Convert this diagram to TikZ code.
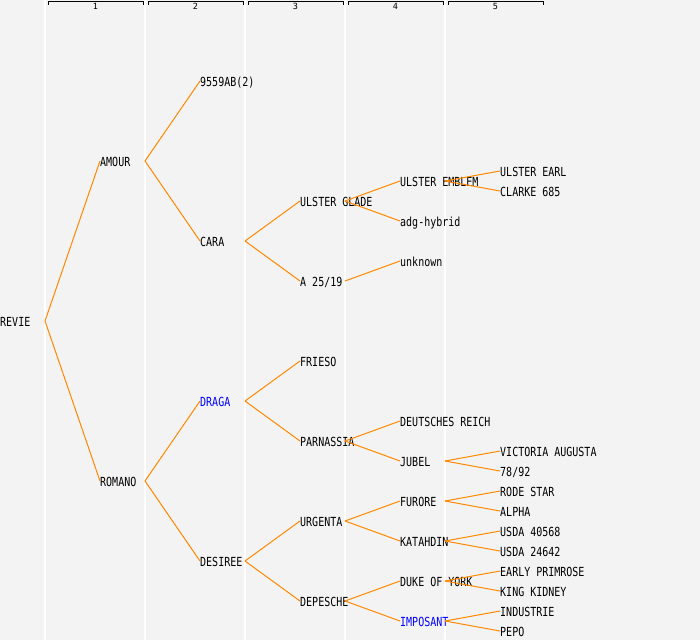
\documentclass[tikz,border=0pt]{standalone}
\usepackage{fontspec}
\setmonofont{DejaVu Sans Mono}[FakeStretch=0.8]
\newfontfamily\hdrfont{DejaVu Sans Mono}
\definecolor{bgc}{RGB}{243,243,243}
\definecolor{edgec}{RGB}{255,136,0}
\tikzset{
  lbl/.style={anchor=base west, inner sep=0pt, text height=9.3pt, text depth=0pt,
              font=\ttfamily\fontsize{12.5}{14}\selectfont},
  hl/.style={lbl, text=blue},
  edge/.style={draw=edgec, line width=1pt},
  colline/.style={draw=white, line width=1.2pt},
  brk/.style={draw=black, line width=0.9pt},
  hdr/.style={inner sep=0pt, font=\hdrfont\fontsize{8.5}{9}\selectfont}
}
\newcommand{\Nd}[5][lbl]{%
  \node[#1] (#2) at (#3,#4+4.65) {#5};
  \coordinate (#2-j) at (#3+45,#4-1);}
\newcommand{\Ed}[2]{\draw[edge] (#1-j) -- ([yshift=1pt]#2.west);}
\begin{document}
\begin{tikzpicture}[x=1pt,y=-1pt]
\fill[bgc] (0,0) rectangle (700,640);
\useasboundingbox (0,0) rectangle (700,640);
% column lines
\foreach \c in {45,145,245,345,445} {\draw[colline] (\c,0) -- (\c,640);}
% header brackets
\foreach \k in {1,...,5} {
  \pgfmathsetmacro{\xa}{48+100*(\k-1)}
  \pgfmathsetmacro{\xb}{143+100*(\k-1)}
  \draw[brk] (\xa,4.5) -- (\xa,1.2) -- (\xb,1.2) -- (\xb,4.5);
  \node[hdr] (h\k) at ({(\xa+\xb)/2},6.3) {\k};
}
% nodes
\Nd{revie}{0}{322}{REVIE}
\Nd{amour}{100}{162}{AMOUR}
\Nd{romano}{100}{482}{ROMANO}
\Nd{n9559}{200}{82}{9559AB(2)}
\Nd{cara}{200}{242}{CARA}
\Nd[hl]{draga}{200}{402}{DRAGA}
\Nd{desiree}{200}{562}{DESIREE}
\Nd{uglade}{300}{202}{ULSTER GLADE}
\Nd{a2519}{300}{282}{A 25/19}
\Nd{frieso}{300}{362}{FRIESO}
\Nd{parnassia}{300}{442}{PARNASSIA}
\Nd{urgenta}{300}{522}{URGENTA}
\Nd{depesche}{300}{602}{DEPESCHE}
\Nd{uemblem}{400}{182}{ULSTER EMBLEM}
\Nd{adg}{400}{222}{adg-hybrid}
\Nd{unknown}{400}{262}{unknown}
\Nd{dreich}{400}{422}{DEUTSCHES REICH}
\Nd{jubel}{400}{462}{JUBEL}
\Nd{furore}{400}{502}{FURORE}
\Nd{katahdin}{400}{542}{KATAHDIN}
\Nd{dyork}{400}{582}{DUKE OF YORK}
\Nd[hl]{imposant}{400}{622}{IMPOSANT}
\Nd{uearl}{500}{172}{ULSTER EARL}
\Nd{clarke}{500}{192}{CLARKE 685}
\Nd{victoria}{500}{452}{VICTORIA AUGUSTA}
\Nd{n7892}{500}{472}{78/92}
\Nd{rodestar}{500}{492}{RODE STAR}
\Nd{alpha}{500}{512}{ALPHA}
\Nd{usdaa}{500}{532}{USDA 40568}
\Nd{usdab}{500}{552}{USDA 24642}
\Nd{early}{500}{572}{EARLY PRIMROSE}
\Nd{king}{500}{592}{KING KIDNEY}
\Nd{industrie}{500}{612}{INDUSTRIE}
\Nd{pepo}{500}{632}{PEPO}
% edges
\Ed{revie}{amour}\Ed{revie}{romano}
\Ed{amour}{n9559}\Ed{amour}{cara}
\Ed{romano}{draga}\Ed{romano}{desiree}
\Ed{cara}{uglade}\Ed{cara}{a2519}
\Ed{draga}{frieso}\Ed{draga}{parnassia}
\Ed{desiree}{urgenta}\Ed{desiree}{depesche}
\Ed{uglade}{uemblem}\Ed{uglade}{adg}
\Ed{a2519}{unknown}
\Ed{parnassia}{dreich}\Ed{parnassia}{jubel}
\Ed{urgenta}{furore}\Ed{urgenta}{katahdin}
\Ed{depesche}{dyork}\Ed{depesche}{imposant}
\Ed{uemblem}{uearl}\Ed{uemblem}{clarke}
\Ed{jubel}{victoria}\Ed{jubel}{n7892}
\Ed{furore}{rodestar}\Ed{furore}{alpha}
\Ed{katahdin}{usdaa}\Ed{katahdin}{usdab}
\Ed{dyork}{early}\Ed{dyork}{king}
\Ed{imposant}{industrie}\Ed{imposant}{pepo}
\end{tikzpicture}
\end{document}
